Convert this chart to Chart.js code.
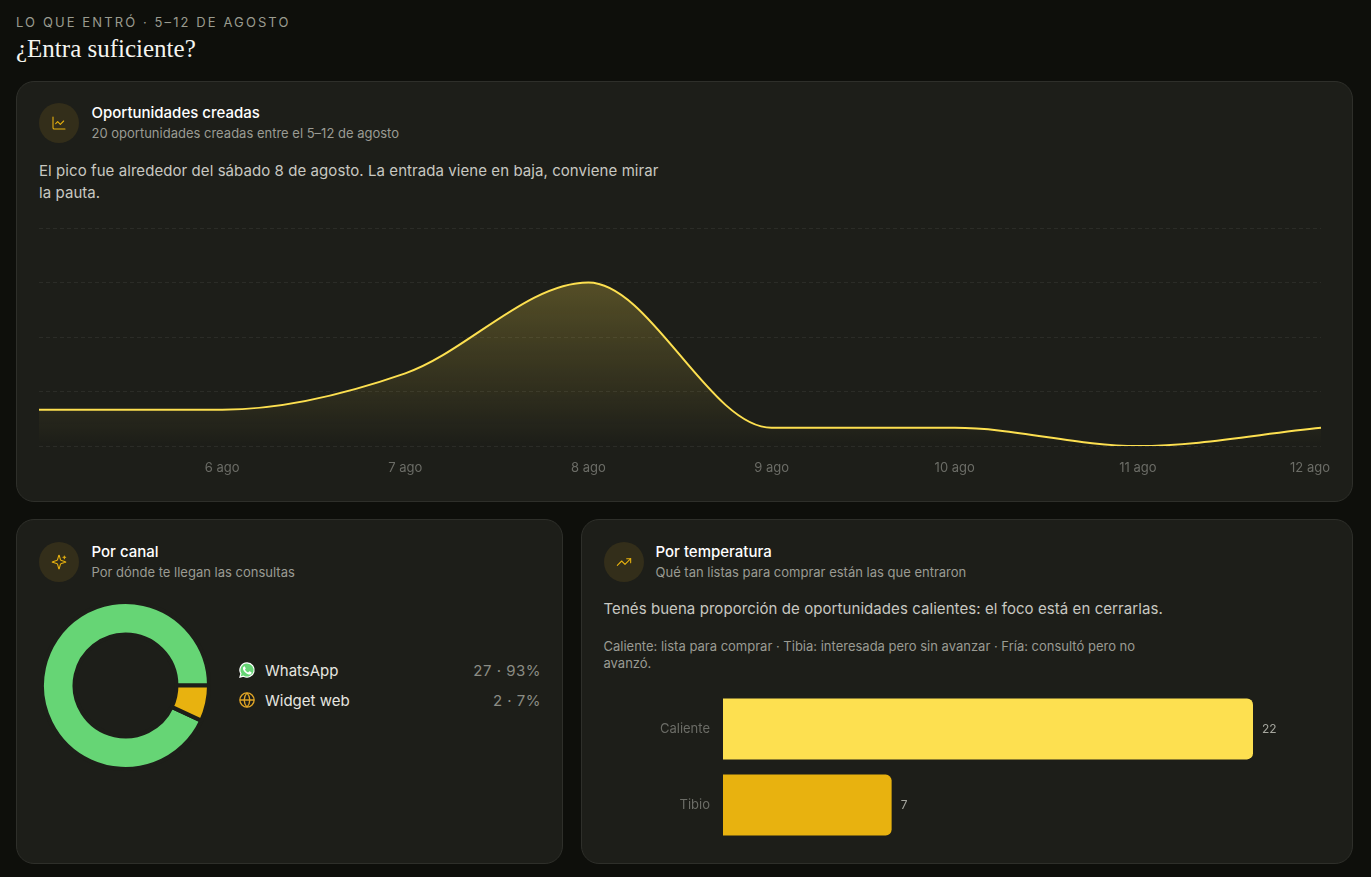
<!DOCTYPE html>
<html lang="es">
<head>
<meta charset="utf-8">
<title>¿Entra suficiente?</title>
<script src="https://cdn.jsdelivr.net/npm/chart.js@4"></script>
<style>
  * { box-sizing: border-box; margin: 0; padding: 0; }
  html, body { width: 1371px; height: 877px; overflow: hidden; }
  body { background: #0e0f0b; font-family: Inter, sans-serif; color: #fff; position: relative; }
  .eyebrow { position: absolute; left: 16px; top: 15px; font-size: 13px; line-height: 15px; letter-spacing: 2.1px; color: #9a9b8f; }
  h1 { position: absolute; left: 16px; top: 35px; font: 400 25px/28px "Liberation Serif", serif; color: #f5f5f0; }
  .card { position: absolute; background: #1d1e19; border: 1px solid #2e2f2a; border-radius: 18px; }
  #cardLine { left: 16px; top: 81px; width: 1337px; height: 421px; }
  #cardDonut { left: 16px; top: 519px; width: 547px; height: 345px; }
  #cardBars { left: 581px; top: 519px; width: 772px; height: 345px; }
  .head { position: absolute; left: 22px; top: 21px; display: flex; gap: 12.5px; }
  #cardDonut .head, #cardBars .head { top: 22px; }
  #cardBars .head { left: 21.5px; gap: 12px; }
  .icon { width: 40px; height: 40px; border-radius: 50%; background: #332e1a; display: flex; align-items: center; justify-content: center; }
  .icon svg { width: 16px; height: 16px; fill: none; stroke: #e8b20f; stroke-width: 1.6; stroke-linecap: round; stroke-linejoin: round; }
  .title { font-size: 15px; line-height: 20px; font-weight: 500; }
  .sub { font-size: 13px; line-height: 20px; color: #9a9b93; }
  .insight { position: absolute; left: 22px; font-size: 15px; line-height: 22px; letter-spacing: .07px; color: #c8c8c1; }
  .hint { position: absolute; left: 21.5px; font-size: 13px; line-height: 17px; color: #9a9b93; width: 540px; }
  #cardBars .insight { left: 21.5px; }
  canvas { position: absolute; }
  .legend { position: absolute; left: 221px; top: 135px; width: 303px; }
  .row { display: flex; align-items: center; height: 30px; font-size: 15px; color: #e6e6e0; }
  .row svg { width: 18px; height: 18px; margin-right: 9px; flex: none; }
  .row .val { margin-left: auto; color: #8b8c84; letter-spacing: .5px; }
</style>
</head>
<body>
<div class="eyebrow">LO QUE ENTRÓ · 5–12 DE AGOSTO</div>
<h1>¿Entra suficiente?</h1>

<div class="card" id="cardLine">
  <div class="head">
    <div class="icon"><svg viewBox="0 0 24 24"><path d="M3 3v16a2 2 0 0 0 2 2h16"/><path d="m19 9-5 5-4-4-3 3"/></svg></div>
    <div><div class="title">Oportunidades creadas</div><div class="sub">20 oportunidades creadas entre el 5–12 de agosto</div></div>
  </div>
  <p class="insight" style="top:78px;width:630px">El pico fue alrededor del sábado 8 de agosto. La entrada viene en baja, conviene mirar la pauta.</p>
  <canvas id="lineChart" style="left:0;top:137px;width:1335px;height:265px"></canvas>
</div>

<div class="card" id="cardDonut">
  <div class="head">
    <div class="icon"><svg viewBox="0 0 24 24"><path d="M9.9 15.5a2 2 0 0 0-1.4-1.4l-6.1-1.6a.5.5 0 0 1 0-1l6.1-1.6a2 2 0 0 0 1.4-1.4l1.6-6.1a.5.5 0 0 1 1 0l1.6 6.1a2 2 0 0 0 1.4 1.4l6.1 1.6a.5.5 0 0 1 0 1l-6.1 1.6a2 2 0 0 0-1.4 1.4l-1.6 6.1a.5.5 0 0 1-1 0z"/><path d="M20 3v4M22 5h-4"/></svg></div>
    <div><div class="title">Por canal</div><div class="sub">Por dónde te llegan las consultas</div></div>
  </div>
  <canvas id="donutChart" style="left:23.400px;top:80.200px;width:171px;height:171px"></canvas>
  <div class="legend" id="legend"></div>
</div>

<div class="card" id="cardBars">
  <div class="head">
    <div class="icon"><svg viewBox="0 0 24 24"><path d="M22 7 13.5 15.5l-5-5L2 17"/><path d="M16 7h6v6"/></svg></div>
    <div><div class="title">Por temperatura</div><div class="sub">Qué tan listas para comprar están las que entraron</div></div>
  </div>
  <p class="insight" style="top:78px">Tenés buena proporción de oportunidades calientes: el foco está en cerrarlas.</p>
  <p class="hint" style="top:118px">Caliente: lista para comprar · Tibia: interesada pero sin avanzar · Fría: consultó pero no avanzó.</p>
  <canvas id="barChart" style="left:-0.5px;top:157.500px;width:770px;height:178px"></canvas>
</div>

<script>
// Oportunidades por dia
const dayLabels = ['5 ago', '6 ago', '7 ago', '8 ago', '9 ago', '10 ago', '11 ago', '12 ago'];
const dayValues = [2, 2, 4, 9, 1, 1, 0, 1];
const dayTicks = [0, 3, 6, 9, 12];

// Por canal
const channelLabels = ['WhatsApp', 'Widget web'];
const channelValues = [27, 2];
const channelPercents = [93, 7];
const channelColors = ['#66d575', '#e8b20f'];

// Por temperatura
const tempLabels = ['Caliente', 'Tibio'];
const tempValues = [22, 7];
const tempColors = ['#fde050', '#e8b20f'];

const YELLOW = '#fde050';
const CARD_BG = '#1d1e19';
const FONT = { family: 'Inter', size: 13 };

Chart.defaults.animation = false;
Chart.defaults.font.family = 'Inter';
Chart.defaults.plugins.legend.display = false;
Chart.defaults.plugins.tooltip.enabled = false;

// The last x label is pulled inwards so it stays inside the card
const shiftLastLabel = {
  id: 'shiftLastLabel',
  beforeDraw(chart) {
    const scale = chart.scales.x;
    const items = scale.getLabelItems();
    items[items.length - 1].options.translation[0] = scale.getPixelForTick(dayLabels.length - 1) - 11;
  }
};

new Chart(document.getElementById('lineChart'), {
  type: 'line',
  plugins: [shiftLastLabel],
  data: {
    labels: dayLabels,
    datasets: [{
      data: dayValues,
      borderColor: YELLOW,
      borderWidth: 2,
      pointRadius: 0,
      cubicInterpolationMode: 'monotone',
      fill: true,
      backgroundColor(ctx) {
        const { chart } = ctx;
        if (!chart.chartArea) return 'transparent';
        const y = chart.scales.y;
        const grad = chart.ctx.createLinearGradient(0, y.getPixelForValue(9), 0, y.getPixelForValue(0));
        grad.addColorStop(0, 'rgba(253,224,80,0.25)');
        grad.addColorStop(1, 'rgba(253,224,80,0)');
        return grad;
      }
    }]
  },
  options: {
    responsive: false,
    layout: { padding: { left: 22, right: 31, top: 9, bottom: 0 } },
    scales: {
      x: {
        offset: false,
        grid: { display: false },
        border: { display: false },
        afterFit(scale) { scale.height = 38; },
        ticks: {
          color: '#6b6c66',
          font: FONT,
          padding: 6,
          maxRotation: 0,
          autoSkip: false,
          align: 'center',
          callback(value, index) { return index === 0 ? '' : dayLabels[index]; }
        }
      },
      y: {
        display: true,
        min: 0,
        max: 12,
        afterBuildTicks(scale) { scale.ticks = dayTicks.map(v => ({ value: v })); },
        afterFit(scale) { scale.width = 0; },
        border: { display: false, dash: [4, 3] },
        grid: { color: '#2b2c27', drawTicks: false },
        ticks: { display: false }
      }
    }
  }
});

// WhatsApp runs counter clockwise from 3 o'clock in the original, so start it after the widget slice
const total = channelValues.reduce((a, b) => a + b, 0);
new Chart(document.getElementById('donutChart'), {
  type: 'doughnut',
  data: {
    labels: channelLabels,
    datasets: [{ data: channelValues, backgroundColor: channelColors, borderWidth: 4, borderColor: CARD_BG }]
  },
  options: {
    responsive: false,
    cutout: '61%',
    rotation: 90 + channelValues[1] / total * 360
  }
});

const legendIcons = [
  '<svg viewBox="0 0 24 24"><path fill="#66d575" stroke="#fff" stroke-width="1.6" d="M12 2.500a9.500 9.500 0 0 0-8.100 14.400L2.600 21.600l4.800-1.300A9.500 9.500 0 1 0 12 2.500z"/><path fill="#fff" d="M8.600 7.200c-.3 0-.7.1-1 .5-.4.4-1 1-1 2.300s1 2.700 1.100 2.900c.1.2 2 3.100 4.800 4.300 2.400 1 2.900.8 3.400.7.5 0 1.700-.7 1.900-1.400.2-.7.2-1.200.2-1.300-.1-.2-.3-.3-.6-.4l-2-1c-.3-.1-.5-.1-.7.1l-.9 1.200c-.2.2-.3.2-.6.1-.3-.2-1.200-.5-2.300-1.400-.9-.8-1.400-1.700-1.600-2-.2-.3 0-.5.1-.6l.8-1c.1-.2.1-.4 0-.5l-.9-2.200c-.2-.5-.5-.5-.7-.5z"/></svg>',
  '<svg viewBox="0 0 24 24" fill="none" stroke="#e0a526" stroke-width="1.8"><circle cx="12" cy="12" r="9.500"/><path d="M2.500 12h19M12 2.500c5 5.500 5 13.500 0 19M12 2.500c-5 5.500-5 13.500 0 19"/></svg>'
];
document.getElementById('legend').innerHTML = channelLabels.map((name, i) =>
  `<div class="row">${legendIcons[i]}<span>${name}</span><span class="val">${channelValues[i]} · ${channelPercents[i]}%</span></div>`
).join('');

// Value next to each bar
const barValues = {
  id: 'barValues',
  afterDatasetsDraw(chart) {
    const { ctx } = chart;
    ctx.save();
    ctx.font = '12px Inter';
    ctx.fillStyle = '#a5a69e';
    ctx.textBaseline = 'middle';
    chart.getDatasetMeta(0).data.forEach((bar, i) => {
      ctx.fillText(tempValues[i], bar.x + 9, bar.y);
    });
    ctx.restore();
  }
};

new Chart(document.getElementById('barChart'), {
  type: 'bar',
  plugins: [barValues],
  data: {
    labels: tempLabels,
    datasets: [{
      data: tempValues,
      backgroundColor: tempColors,
      borderWidth: 0,
      borderRadius: { topRight: 6, bottomRight: 6, topLeft: 0, bottomLeft: 0 },
      borderSkipped: false,
      categoryPercentage: 0.8,
      barPercentage: 1
    }]
  },
  options: {
    responsive: false,
    indexAxis: 'y',
    layout: { padding: { left: 0, right: 99, top: 0, bottom: 0 } },
    scales: {
      x: { display: false, min: 0, max: 22 },
      y: {
        afterFit(scale) { scale.width = 141; },
        grid: { display: false },
        border: { display: false },
        ticks: { color: '#6b6c66', font: FONT, padding: 5 }
      }
    }
  }
});
</script>
</body>
</html>
